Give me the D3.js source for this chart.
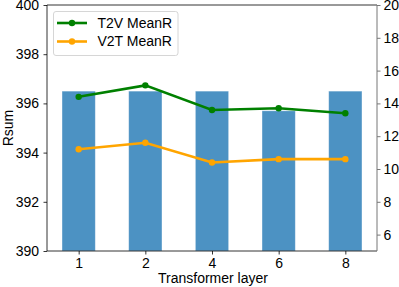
<!DOCTYPE html>
<html><head><meta charset="utf-8">
<script src="https://cdn.jsdelivr.net/npm/d3@7"></script>
<style>body{margin:0;background:#fff}svg{display:block}text{font-family:"Liberation Sans",Arial,sans-serif}</style>
</head><body><svg id="c" width="399" height="287"></svg>
<script>
const categories = ["1","2","4","6","8"];
const rsum = [396.5, 396.5, 396.5, 395.7, 396.5];
const t2v = [14.4, 15.1, 13.6, 13.7, 13.4];
const v2t = [11.2, 11.6, 10.4, 10.6, 10.6];
const leftTicks = [390,392,394,396,398,400];
const rightTicks = [6,8,10,12,14,16,18,20];

const svg = d3.select("#c");
const L=47, R=377, T=5, B=251;
const FS=14;
const x = d3.scaleLinear().domain([-0.475, 4.475]).range([L,R]);
const yL = d3.scaleLinear().domain([390,400]).range([B,T]);
const yR = d3.scaleLinear().domain([5,20]).range([B,T]);
const bw = x(0.25)-x(-0.25);

svg.append("g").selectAll("rect").data(rsum).join("rect")
  .attr("x",(d,i)=>x(i)-bw/2).attr("width",bw)
  .attr("y",d=>yL(d)).attr("height",d=>B-yL(d))
  .attr("fill","#1f77b4").attr("fill-opacity",0.8)
  .attr("stroke","#ffffff").attr("stroke-opacity",0.5).attr("stroke-width",0.8);

const series=[{name:"T2V MeanR",vals:t2v,color:"green"},{name:"V2T MeanR",vals:v2t,color:"orange"}];
const line=d3.line().x((d,i)=>x(i)).y(d=>yR(d));
series.forEach(s=>{
  svg.append("path").attr("d",line(s.vals)).attr("fill","none").attr("stroke",s.color).attr("stroke-width",2.6);
  svg.append("g").selectAll("circle").data(s.vals).join("circle")
    .attr("cx",(d,i)=>x(i)).attr("cy",d=>yR(d)).attr("r",3.2).attr("fill",s.color);
});

// axes
const ax = svg.append("g");
const gL = ax.append("g").attr("transform",`translate(${L},0)`).call(d3.axisLeft(yL).tickValues(leftTicks).tickSize(3.5).tickPadding(4.5));
const gR = ax.append("g").attr("transform",`translate(${R},0)`).call(d3.axisRight(yR).tickValues(rightTicks).tickSize(3.5).tickPadding(3));
const gB = ax.append("g").attr("transform",`translate(0,${B})`).call(d3.axisBottom(x).tickValues(d3.range(categories.length)).tickFormat(i=>categories[i]).tickSize(3.5).tickPadding(3.5));
[gL,gR,gB].forEach(g=>{g.select(".domain").remove();g.selectAll("text").attr("font-size",FS).attr("fill","#000");g.selectAll("line").attr("stroke","#000").attr("stroke-width",0.8);});
gR.selectAll("line").attr("stroke","#555");
svg.append("line").attr("x1",L).attr("x2",R).attr("y1",T).attr("y2",T).attr("stroke","#000").attr("stroke-width",0.8);
svg.append("line").attr("x1",L).attr("x2",R).attr("y1",B).attr("y2",B).attr("stroke","#000").attr("stroke-width",0.8);
svg.append("line").attr("x1",L).attr("x2",L).attr("y1",T).attr("y2",B).attr("stroke","#000").attr("stroke-width",0.8);
svg.append("line").attr("x1",R).attr("x2",R).attr("y1",T).attr("y2",B).attr("stroke","#777").attr("stroke-width",1);

svg.append("text").attr("transform",`translate(8,${(T+B)/2}) rotate(-90)`).attr("text-anchor","middle").attr("dy","0.35em").attr("font-size",FS).text("Rsum");
svg.append("text").attr("x",(L+R)/2+1).attr("y",283).attr("text-anchor","middle").attr("font-size",FS).text("Transformer layer");

// legend
const lg = svg.append("g");
lg.append("rect").attr("x",53.5).attr("y",11.5).attr("width",124.5).attr("height",44).attr("rx",2.5).attr("fill","#fff").attr("fill-opacity",0.8).attr("stroke","#ccc").attr("stroke-width",0.8);
series.forEach((s,i)=>{
  const yy = 23 + i*18.5;
  lg.append("line").attr("x1",57).attr("x2",87).attr("y1",yy).attr("y2",yy).attr("stroke",s.color).attr("stroke-width",2.6);
  lg.append("circle").attr("cx",72).attr("cy",yy).attr("r",3.2).attr("fill",s.color);
  lg.append("text").attr("x",97.5).attr("y",yy).attr("dy","0.35em").attr("font-size",FS).text(s.name);
});
</script></body></html>
